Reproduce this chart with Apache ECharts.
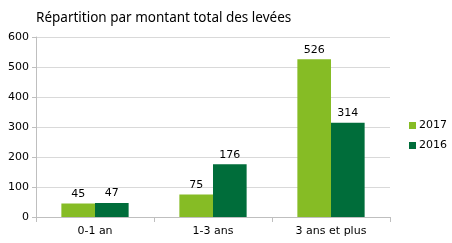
<!DOCTYPE html>
<html><head><meta charset="utf-8">
<script src="https://cdn.jsdelivr.net/npm/echarts@6/dist/echarts.min.js"></script>
<style>html,body{margin:0;padding:0;background:#fff}#c{width:452px;height:243px}</style>
</head><body><div id="c"></div>
<script>
const categories = ['0-1 an', '1-3 ans', '3 ans et plus'];
const values2017 = [45, 75, 526];
const values2016 = [47, 176, 314];
const seriesNames = ['2017', '2016'];
const titleText = 'Répartition par montant total des levées';

const chart = echarts.init(document.getElementById('c'), null, {renderer: 'canvas'});
const font = 'DejaVu Sans, Verdana, sans-serif';
chart.setOption({
  animation: false,
  title: {text: titleText, left: 31, top: 6, textStyle: {fontFamily: 'Noto Sans, sans-serif', fontSize: 13.5, fontWeight: 'normal', color: '#000'}},
  legend: {orient: 'vertical', left: 404, top: 115, itemWidth: 7, itemHeight: 7, itemGap: 9, icon: 'rect',
    textStyle: {fontFamily: font, fontSize: 11, color: '#000', padding: [0,0,0,-2]}, data: seriesNames},
  grid: {left: 36, right: 62, top: 37, bottom: 26, containLabel: false},
  xAxis: {type: 'category', data: categories,
    axisLine: {lineStyle: {color: '#BFBFBF'}},
    axisTick: {show: true, length: 5, lineStyle: {color: '#BFBFBF'}},
    axisLabel: {fontFamily: font, fontSize: 11, color: '#000', margin: 9}},
  yAxis: {type: 'value', min: 0, max: 600, interval: 100,
    axisLine: {show: true, lineStyle: {color: '#BFBFBF'}},
    axisTick: {show: true, length: 4, lineStyle: {color: '#BFBFBF'}},
    splitLine: {lineStyle: {color: '#D9D9D9'}},
    axisLabel: {fontFamily: font, fontSize: 11, color: '#000', margin: 7}},
  series: [
    {name: seriesNames[0], type: 'bar', data: values2017, barGap: '0%', barCategoryGap: '43%',
      itemStyle: {color: '#86BC25'},
      label: {show: true, position: 'top', distance: 4, fontFamily: font, fontSize: 11, color: '#000'}},
    {name: seriesNames[1], type: 'bar', data: values2016, barGap: '0%', barCategoryGap: '43%',
      itemStyle: {color: '#006D3A'},
      label: {show: true, position: 'top', distance: 4, fontFamily: font, fontSize: 11, color: '#000'}}
  ]
});
</script></body></html>
